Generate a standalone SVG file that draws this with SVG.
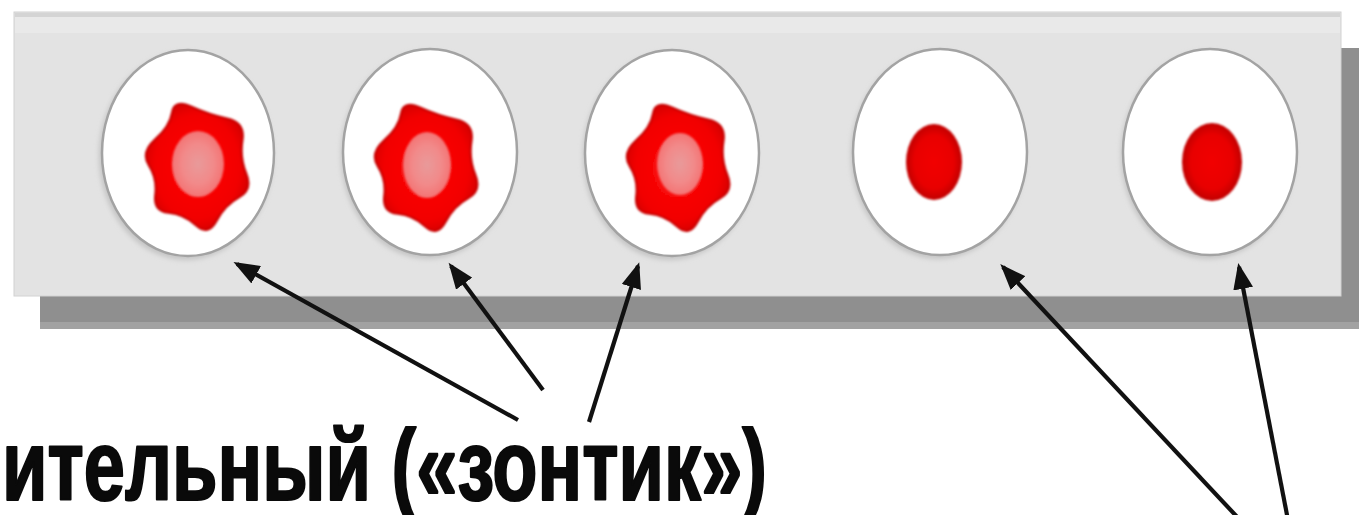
<svg xmlns="http://www.w3.org/2000/svg" width="1359" height="515" viewBox="0 0 1359 515">
  <style>
    .dish { fill: #ffffff; stroke: #a3a3a3; stroke-width: 2.5; }
    .dish-shadow { fill: #c4c4c4; filter: url(#soft); }
    .blob { fill: url(#blobFill); stroke: #c80000; stroke-width: 2; stroke-linejoin: round; filter: url(#softer); }
    .core { fill: url(#coreFill); filter: url(#softer); }
    .dot { fill: url(#dotFill); filter: url(#softer); }
    .arrow { stroke: #111111; stroke-width: 4.2; fill: none; marker-end: url(#head); }
    .label { font-family: "Liberation Sans Narrow", "Liberation Sans", Arial, sans-serif; font-weight: bold; font-size: 100px; fill: #0a0a0a; stroke: #0a0a0a; stroke-width: 2.2; stroke-linejoin: round; }
  </style>
  <defs>
    <filter id="soft" x="-20%" y="-20%" width="140%" height="140%">
      <feGaussianBlur stdDeviation="2.5"/>
    </filter>
    <filter id="softer" x="-20%" y="-20%" width="140%" height="140%">
      <feGaussianBlur stdDeviation="0.9"/>
    </filter>
    <radialGradient id="blobFill" cx="50%" cy="50%" r="55%">
      <stop offset="0" stop-color="#ff1010"/>
      <stop offset="0.75" stop-color="#f20000"/>
      <stop offset="1" stop-color="#d00000"/>
    </radialGradient>
    <radialGradient id="coreFill" cx="50%" cy="50%" r="50%">
      <stop offset="0" stop-color="#e89a9a"/>
      <stop offset="0.6" stop-color="#f28a8a"/>
      <stop offset="1" stop-color="#f47474"/>
    </radialGradient>
    <radialGradient id="dotFill" cx="50%" cy="50%" r="50%">
      <stop offset="0" stop-color="#f20000"/>
      <stop offset="0.7" stop-color="#e80000"/>
      <stop offset="1" stop-color="#c00000"/>
    </radialGradient>
    <!-- wavy lobed cell outline, centred on 0,0 -->
    <path id="lobed" d="M-24.05,-48.55 Q-22.0,-61.2 -5.95,-53.95 Q10.1,-46.7 26.9,-43.05 Q43.7,-39.4 41.15,-23.05 Q38.6,-6.7 44.7,8.1 Q50.8,22.9 37.95,29.95 Q25.1,37.0 17.25,51.5 Q9.4,66.0 -1.95,55.75 Q-13.3,45.5 -27.35,44.25 Q-41.4,43.0 -39.55,27.75 Q-37.7,12.5 -45.45,0.4 Q-53.2,-11.7 -39.65,-23.8 Q-26.1,-35.9 -24.05,-48.55 Z" transform="scale(1.08)"/>
    <marker id="head" markerUnits="userSpaceOnUse" markerWidth="28" markerHeight="20" refX="22" refY="10" orient="auto">
      <path d="M0,0 L26,10 L0,20 Z" fill="#111111"/>
    </marker>
  </defs>

  <rect width="1359" height="515" fill="#ffffff"/>

  <!-- tray with drop shadow -->
  <g id="tray">
    <rect x="40" y="48" width="1330" height="281" fill="#8f8f8f"/>
    <rect x="40" y="322" width="1330" height="7" fill="#a2a2a2"/>
    <rect x="14" y="12" width="1327" height="284" fill="#e3e3e3" stroke="#d2d2d2" stroke-width="1"/>
    <rect x="15" y="13" width="1325" height="4" fill="#d4d4d4"/>
    <rect x="15" y="17" width="1325" height="16" fill="#e9e9e9"/>
  </g>

  <!-- dishes with large lobed cells -->
  <g id="cell-1">
    <ellipse class="dish-shadow" cx="186" cy="156" rx="87" ry="104"/>
    <ellipse class="dish" cx="188" cy="153" rx="86" ry="103"/>
    <use href="#lobed" class="blob" transform="translate(198,165)"/>
    <ellipse class="core" cx="198" cy="164" rx="26" ry="33"/>
  </g>
  <g id="cell-2">
    <ellipse class="dish-shadow" cx="428" cy="155" rx="87" ry="104"/>
    <ellipse class="dish" cx="430" cy="152" rx="87" ry="103"/>
    <use href="#lobed" class="blob" transform="translate(427,166)"/>
    <ellipse class="core" cx="427" cy="165" rx="24" ry="33"/>
  </g>
  <g id="cell-3">
    <ellipse class="dish-shadow" cx="670" cy="156" rx="87" ry="104"/>
    <ellipse class="dish" cx="672" cy="153" rx="87" ry="103"/>
    <use href="#lobed" class="blob" transform="translate(679,166)"/>
    <ellipse class="core" cx="680" cy="164" rx="23" ry="31"/>
  </g>

  <!-- dishes with small round cells -->
  <g id="cell-4">
    <ellipse class="dish-shadow" cx="938" cy="155" rx="87" ry="104"/>
    <ellipse class="dish" cx="940" cy="152" rx="87" ry="103"/>
    <ellipse class="dot" cx="934" cy="162" rx="28" ry="38"/>
  </g>
  <g id="cell-5">
    <ellipse class="dish-shadow" cx="1208" cy="155" rx="87" ry="104"/>
    <ellipse class="dish" cx="1210" cy="152" rx="87" ry="103"/>
    <ellipse class="dot" cx="1212" cy="162" rx="30" ry="39"/>
  </g>

  <!-- pointers -->
  <g id="connectors">
    <line class="arrow" x1="518" y1="420" x2="237" y2="264"/>
    <line class="arrow" x1="543" y1="390" x2="451" y2="266"/>
    <line class="arrow" x1="589" y1="422" x2="638" y2="266"/>
    <line class="arrow" x1="1240" y1="520" x2="1003" y2="267"/>
    <line class="arrow" x1="1288" y1="520" x2="1239" y2="267"/>
  </g>

  <g id="caption">
    <text class="label" x="2" y="500" textLength="765" lengthAdjust="spacingAndGlyphs">ительный («зонтик»)</text>
  </g>
</svg>
